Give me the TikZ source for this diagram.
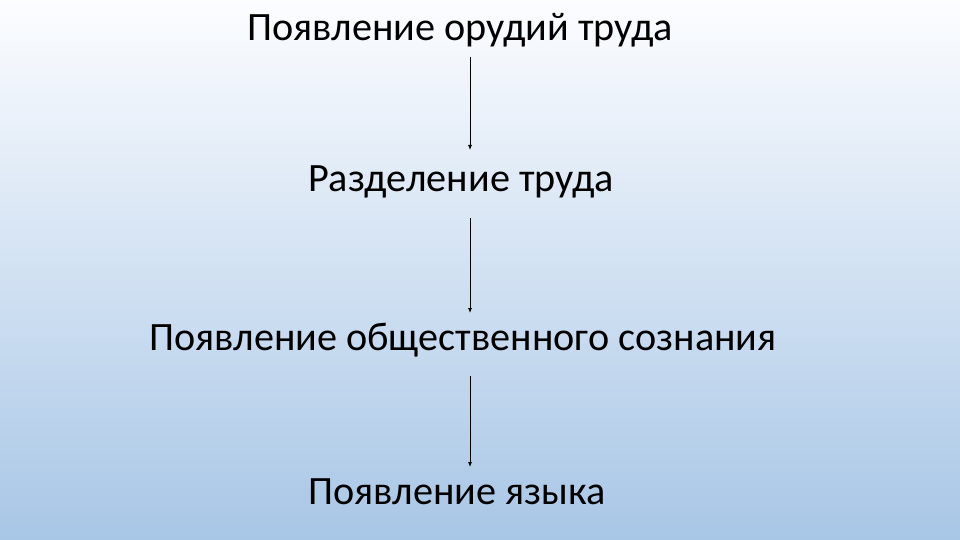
\documentclass[tikz,border=0pt]{standalone}
\usepackage{fontspec}
\setmainfont{Carlito}
\usetikzlibrary{arrows.meta}
\definecolor{bgbot}{RGB}{168,198,230}
\definecolor{bgtop}{RGB}{252,253,255}
\begin{document}
\begin{tikzpicture}[x=1pt,y=-1pt,
  lbl/.style={font=\fontsize{40.2}{46}\selectfont, inner sep=0pt, anchor=center},
  arr/.style={draw=black, line width=0.8pt, -{Latex[length=5pt,width=4pt]}}]
\shade[top color=bgtop, bottom color=bgbot] (0,0) rectangle (960,540);
\useasboundingbox (0,0) rectangle (960,540);
\node[lbl] (a) at (460,30) {Появление орудий труда};
\node[lbl] (b) at (461,182) {Разделение труда};
\node[lbl] (c) at (463,340) {Появление общественного сознания};
\node[lbl] (d) at (457,492) {Появление языка};
\coordinate (a1) at (470,57); \coordinate (b0) at (470,150);
\coordinate (b1) at (470,218); \coordinate (c0) at (470,313);
\coordinate (c1) at (470,376); \coordinate (d0) at (470,467);
\draw[arr] (a1) -- (b0);
\draw[arr] (b1) -- (c0);
\draw[arr] (c1) -- (d0);
\end{tikzpicture}
\end{document}
